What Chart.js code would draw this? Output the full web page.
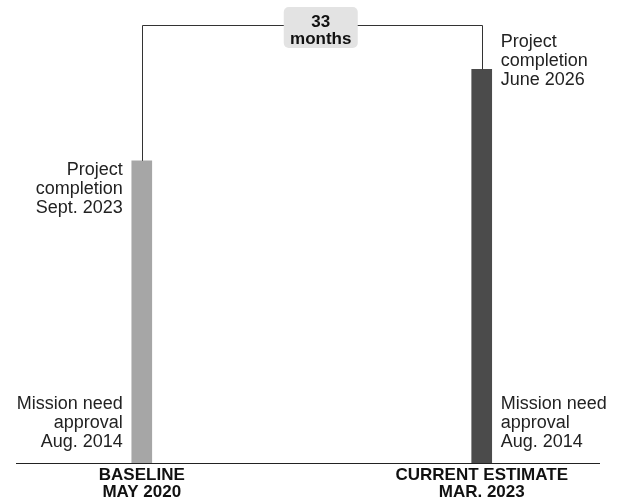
<!DOCTYPE html>
<html>
<head>
<meta charset="utf-8">
<title>Project schedule</title>
<script src="https://cdn.jsdelivr.net/npm/chart.js@4"></script>
<style>
  html, body { margin: 0; padding: 0; background: #fff; }
  canvas { display: block; }
</style>
</head>
<body>
<canvas id="myChart" width="623" height="502"></canvas>
<script>
// schedule data: one bar per estimate, from mission need approval to completion
var categories = [['BASELINE', 'MAY 2020'], ['CURRENT ESTIMATE', 'MAR. 2023']];
var startDates = ['2014-08', '2014-08'];
var endDates = ['2023-09', '2026-06'];
var startNote = ['Mission need', 'approval'];
var endNote = ['Project', 'completion'];
var axisEnd = '2027-10';

var monthNames = ['Jan.', 'Feb.', 'Mar.', 'Apr.', 'May', 'June', 'July', 'Aug.', 'Sept.', 'Oct.', 'Nov.', 'Dec.'];
var barColors = ['#a6a6a6', '#4b4b4b'];
var textColor = '#111';
var fontFamily = '"Liberation Sans", Arial, sans-serif';

function toMonth(s) {
    var p = s.split('-');
    return Number(p[0]) * 12 + Number(p[1]) - 1;
}
function monthLabel(s) {
    var p = s.split('-');
    return monthNames[Number(p[1]) - 1] + ' ' + p[0];
}

var bars = categories.map(function(c, i) {
    return { x: i, y: [toMonth(startDates[i]), toMonth(endDates[i])] };
});
var slip = toMonth(endDates[1]) - toMonth(endDates[0]);

function drawLines(ctx, lines, x, y0, align) {
    ctx.textAlign = align;
    lines.forEach(function(t, k) {
        ctx.fillText(t, x, y0 + k * 19);
    });
}

// bracket, gap box and the milestone notes next to each bar
var notesPlugin = {
    id: 'notes',
    afterDatasetsDraw: function(chart) {
        var ctx = chart.ctx;
        var area = chart.chartArea;
        var els = chart.getDatasetMeta(0).data;
        var a = els[0], b = els[1];
        var top = Math.round(area.top) + 0.5;
        var ax = Math.round(a.x) + 0.5, bx = Math.round(b.x) + 0.5;

        ctx.save();
        ctx.strokeStyle = '#333';
        ctx.lineWidth = 1;
        ctx.beginPath();
        ctx.moveTo(ax, a.y);
        ctx.lineTo(ax, top);
        ctx.lineTo(bx, top);
        ctx.lineTo(bx, b.y);
        ctx.stroke();

        // gap label
        var cx = (a.x + b.x) / 2 + 9;
        ctx.fillStyle = '#e3e3e3';
        ctx.beginPath();
        ctx.roundRect(cx - 37, 7, 74, 41, 5);
        ctx.fill();
        ctx.fillStyle = textColor;
        ctx.font = 'bold 17px ' + fontFamily;
        ctx.textAlign = 'center';
        ctx.textBaseline = 'alphabetic';
        ctx.fillText(String(slip), cx, 27);
        ctx.fillText('months', cx, 44);

        ctx.fillStyle = '#222';
        ctx.font = '18px ' + fontFamily;
        els.forEach(function(el, i) {
            var left = i === 0;
            var tx = left ? el.x - el.width / 2 - 9 : el.x + el.width / 2 + 9;
            var align = left ? 'right' : 'left';
            var endLines = endNote.concat([monthLabel(endDates[i])]);
            var startLines = startNote.concat([monthLabel(startDates[i])]);
            var endY = left ? el.y + 14 : el.y - 22;
            drawLines(ctx, endLines, tx, endY, align);
            drawLines(ctx, startLines, tx, el.base - 16 - 38, align);
        });
        ctx.restore();
    }
};

var ctx = document.getElementById('myChart').getContext('2d');
var chart = new Chart(ctx, {
    type: 'bar',
    data: {
        datasets: [{
            data: bars,
            backgroundColor: barColors,
            borderWidth: 0,
            barThickness: 20
        }]
    },
    options: {
        responsive: false,
        animation: false,
        layout: { padding: { top: 25, left: 16, right: 24, bottom: 0 } },
        plugins: {
            legend: { display: false },
            tooltip: { enabled: false }
        },
        scales: {
            x: {
                type: 'linear',
                offset: false,
                min: -0.37,
                max: 1.345,
                grid: { display: false, drawTicks: false },
                border: { display: true, color: '#222', width: 1 },
                afterBuildTicks: function(scale) {
                    scale.ticks = categories.map(function(c, i) { return { value: i }; });
                },
                afterFit: function(scale) {
                    scale.height = 39;
                },
                ticks: {
                    padding: 3,
                    color: textColor,
                    font: { family: fontFamily, size: 17, weight: 'bold', lineHeight: 1.04 },
                    callback: function(v) { return categories[v]; }
                }
            },
            y: {
                display: false,
                min: toMonth(startDates[0]),
                max: toMonth(axisEnd)
            }
        }
    },
    plugins: [notesPlugin]
});
</script>
</body>
</html>
